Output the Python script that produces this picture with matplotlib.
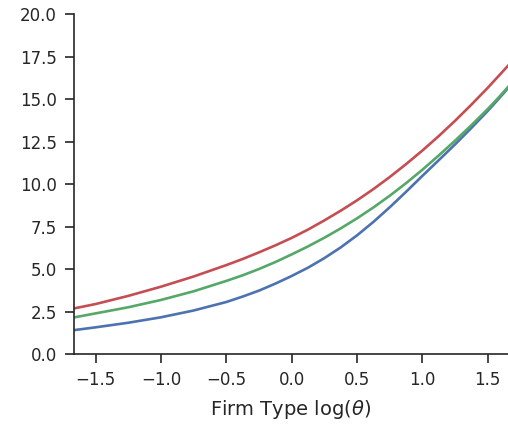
import matplotlib
matplotlib.use("Agg")
import matplotlib.pyplot as plt

x = [-1.66, -1.5, -1.25, -1.0, -0.75, -0.5, -0.375, -0.25, -0.125, 0.0, 0.125, 0.25, 0.375,
     0.5, 0.625, 0.75, 0.875, 1.0, 1.125, 1.25, 1.375, 1.5, 1.58, 1.66]
red = [2.69, 2.94, 3.42, 3.96, 4.56, 5.23, 5.59, 5.98, 6.39, 6.83, 7.32, 7.86, 8.43,
       9.04, 9.70, 10.41, 11.17, 11.97, 12.82, 13.72, 14.67, 15.66, 16.33, 17.0]
green = [2.16, 2.39, 2.75, 3.18, 3.69, 4.30, 4.63, 5.00, 5.41, 5.86, 6.33, 6.84, 7.39,
         7.98, 8.62, 9.31, 10.05, 10.84, 11.68, 12.55, 13.46, 14.41, 15.06, 15.75]
blue = [1.41, 1.57, 1.84, 2.16, 2.56, 3.06, 3.38, 3.73, 4.14, 4.59, 5.08, 5.64, 6.27,
        6.98, 7.77, 8.63, 9.54, 10.48, 11.40, 12.33, 13.30, 14.30, 14.98, 15.68]

xticks = [-1.5, -1.0, -0.5, 0.0, 0.5, 1.0, 1.5]
yticks = [0.0, 2.5, 5.0, 7.5, 10.0, 12.5, 15.0, 17.5, 20.0]

dark = "#262626"
fig = plt.figure(figsize=(5.08, 4.25), dpi=100)
ax = fig.add_axes([0.1457, 0.167, 0.8543, 0.8])
ax.plot(x, blue, color="#4C72B0", lw=1.9, solid_joinstyle="round")
ax.plot(x, green, color="#55A868", lw=1.9, solid_joinstyle="round")
ax.plot(x, red, color="#C44E52", lw=1.9, solid_joinstyle="round")
ax.set_xlim(-1.665, 1.655)
ax.set_ylim(0, 20)
ax.set_xticks(xticks)
ax.set_xticklabels([f"{t:.1f}".replace("-", "\u2212") for t in xticks])
ax.set_yticks(yticks)
ax.set_yticklabels([f"{t:.1f}" for t in yticks])
for s in ["top", "right"]:
    ax.spines[s].set_visible(False)
for s in ["left", "bottom"]:
    ax.spines[s].set_color(dark)
    ax.spines[s].set_linewidth(1.2)
ax.tick_params(axis="both", colors=dark, labelcolor=dark, length=6.5, width=1.2, labelsize=12, pad=6)
ax.set_xlabel(r"Firm Type $\log(\theta)$", fontsize=14, color=dark, labelpad=6)
fig.savefig("out.png", dpi=100)
